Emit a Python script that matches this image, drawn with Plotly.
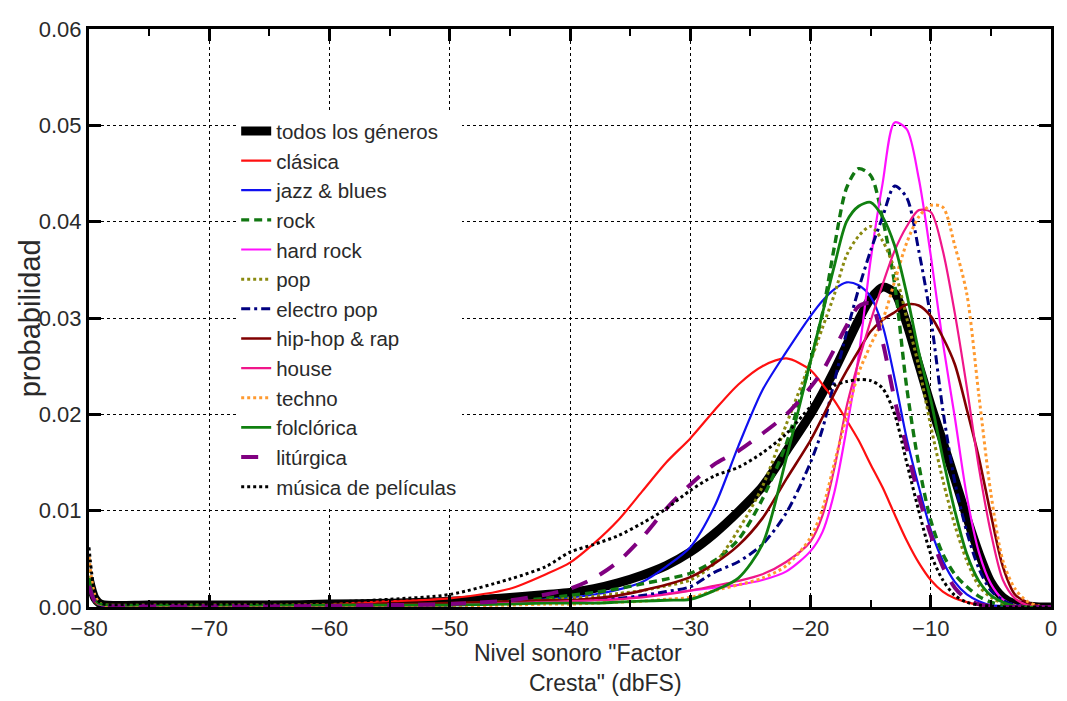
import plotly.graph_objects as go

# Crest-factor level axis (dBFS)
nivel = [-80, -79.5, -79, -75, -70, -65, -60, -55, -50, -45, -42, -40, -38, -36, -34, -32,
         -30, -28, -26, -24, -22, -20, -19, -18, -17, -16, -15, -14, -13, -12, -11, -10,
         -9, -8, -7, -6, -5, -4, -3, -2, -1, 0]

todos = [0.0030, 0.0009, 0.0003, 0.0002, 0.0002, 0.0002, 0.0003, 0.0004, 0.0006, 0.0010, 0.0013, 0.0015,
         0.0019, 0.0025, 0.0033, 0.0043, 0.0057, 0.0076, 0.0099, 0.0125, 0.0162, 0.0200, 0.0222, 0.0246,
         0.0272, 0.0298, 0.0320, 0.0332, 0.0326, 0.0294, 0.0252, 0.0210, 0.0172, 0.0133, 0.0093, 0.0056,
         0.0026, 0.0010, 0.0003, 0.0001, 0.0, 0.0]
clasica = [0.0020, 0.0006, 0.0002, 0.0001, 0.0001, 0.0002, 0.0003, 0.0006, 0.0009, 0.0019, 0.0034, 0.0046,
           0.0066, 0.0090, 0.0120, 0.0150, 0.0175, 0.0204, 0.0231, 0.0250, 0.0258, 0.0246, 0.0231, 0.0214,
           0.0194, 0.0173, 0.0148, 0.0124, 0.0096, 0.0069, 0.0046, 0.0028, 0.0016, 0.0009, 0.0005, 0.0002,
           0.0001, 0.0, 0.0, 0.0, 0.0, 0.0]
jazz = [0.0025, 0.0006, 0.0002, 0.0001, 0.0001, 0.0001, 0.0001, 0.0002, 0.0003, 0.0005, 0.0008, 0.0010,
        0.0013, 0.0018, 0.0026, 0.0042, 0.0062, 0.0104, 0.0167, 0.0225, 0.0265, 0.0302, 0.0318, 0.0330,
        0.0337, 0.0334, 0.0322, 0.0292, 0.0237, 0.0175, 0.0125, 0.0080, 0.0048, 0.0026, 0.0013, 0.0006,
        0.0002, 0.0001, 0.0, 0.0, 0.0, 0.0]
rock = [0.0020, 0.0005, 0.0002, 0.0001, 0.0001, 0.0001, 0.0001, 0.0002, 0.0003, 0.0006, 0.0009, 0.0012,
        0.0015, 0.0019, 0.0024, 0.0029, 0.0035, 0.0048, 0.0070, 0.0112, 0.0170, 0.0255, 0.0305, 0.0375,
        0.0435, 0.0455, 0.0448, 0.0403, 0.0335, 0.0228, 0.0148, 0.0090, 0.0055, 0.0034, 0.0021, 0.0011,
        0.0005, 0.0002, 0.0001, 0.0, 0.0, 0.0]
hard_rock = [0.0025, 0.0006, 0.0002, 0.0001, 0.0001, 0.0001, 0.0001, 0.0001, 0.0002, 0.0004, 0.0005, 0.0006,
             0.0007, 0.0009, 0.0011, 0.0014, 0.0017, 0.0020, 0.0023, 0.0028, 0.0037, 0.0058, 0.0078, 0.0120,
             0.0185, 0.0260, 0.0360, 0.0440, 0.0503, 0.0496, 0.0445, 0.0365, 0.0275, 0.0197, 0.0115, 0.0057,
             0.0024, 0.0008, 0.0002, 0.0001, 0.0, 0.0]
pop = [0.0045, 0.0010, 0.0003, 0.0002, 0.0002, 0.0002, 0.0002, 0.0002, 0.0003, 0.0005, 0.0007, 0.0009,
       0.0011, 0.0014, 0.0017, 0.0022, 0.0028, 0.0045, 0.0080, 0.0125, 0.0190, 0.0255, 0.0290, 0.0325,
       0.0365, 0.0385, 0.0395, 0.0380, 0.0350, 0.0300, 0.0250, 0.0188, 0.0132, 0.0085, 0.0048, 0.0022,
       0.0010, 0.0004, 0.0001, 0.0, 0.0, 0.0]
electro_pop = [0.0020, 0.0005, 0.0002, 0.0001, 0.0001, 0.0001, 0.0001, 0.0001, 0.0002, 0.0004, 0.0006, 0.0007,
               0.0008, 0.0009, 0.0012, 0.0016, 0.0021, 0.0036, 0.0047, 0.0065, 0.0098, 0.0150, 0.0185, 0.0235,
               0.0285, 0.0330, 0.0370, 0.0405, 0.0437, 0.0425, 0.0370, 0.0300, 0.0205, 0.0130, 0.0078, 0.0040,
               0.0017, 0.0007, 0.0002, 0.0001, 0.0, 0.0]
hip_hop = [0.0020, 0.0005, 0.0003, 0.0002, 0.0002, 0.0002, 0.0002, 0.0003, 0.0004, 0.0006, 0.0007, 0.0007,
           0.0009, 0.0012, 0.0017, 0.0023, 0.0031, 0.0045, 0.0064, 0.0092, 0.0133, 0.0173, 0.0197, 0.0222,
           0.0245, 0.0266, 0.0286, 0.0298, 0.0306, 0.0314, 0.0313, 0.0302, 0.0280, 0.0252, 0.0205, 0.0155,
           0.0096, 0.0042, 0.0013, 0.0005, 0.0001, 0.0]
house = [0.0025, 0.0006, 0.0002, 0.0001, 0.0001, 0.0001, 0.0001, 0.0001, 0.0002, 0.0004, 0.0005, 0.0006,
         0.0007, 0.0008, 0.0010, 0.0013, 0.0017, 0.0022, 0.0027, 0.0034, 0.0047, 0.0068, 0.0095, 0.0145,
         0.0208, 0.0255, 0.0297, 0.0335, 0.0370, 0.0395, 0.0412, 0.0410, 0.0370, 0.0305, 0.0228, 0.0145,
         0.0077, 0.0028, 0.0009, 0.0002, 0.0, 0.0]
techno = [0.0052, 0.0012, 0.0003, 0.0001, 0.0001, 0.0001, 0.0001, 0.0001, 0.0001, 0.0002, 0.0003, 0.0003,
          0.0004, 0.0005, 0.0006, 0.0008, 0.0010, 0.0017, 0.0023, 0.0030, 0.0043, 0.0072, 0.0102, 0.0150,
          0.0198, 0.0243, 0.0272, 0.0298, 0.0338, 0.0378, 0.0405, 0.0417, 0.0415, 0.0375, 0.0325, 0.0220,
          0.0118, 0.0048, 0.0019, 0.0006, 0.0001, 0.0]
folclorica = [0.0030, 0.0007, 0.0003, 0.0002, 0.0002, 0.0002, 0.0002, 0.0002, 0.0002, 0.0003, 0.0004, 0.0004,
              0.0004, 0.0005, 0.0006, 0.0007, 0.0008, 0.0017, 0.0030, 0.0065, 0.0155, 0.0255, 0.0305, 0.0355,
              0.0400, 0.0416, 0.0420, 0.0405, 0.0375, 0.0325, 0.0265, 0.0215, 0.0155, 0.0100, 0.0055, 0.0027,
              0.0012, 0.0005, 0.0001, 0.0, 0.0, 0.0]
liturgica = [0.0022, 0.0006, 0.0002, 0.0001, 0.0001, 0.0001, 0.0001, 0.0002, 0.0003, 0.0007, 0.0013, 0.0019,
             0.0030, 0.0047, 0.0072, 0.0102, 0.0127, 0.0148, 0.0162, 0.0180, 0.0200, 0.0228, 0.0245, 0.0268,
             0.0292, 0.0312, 0.0315, 0.0275, 0.0215, 0.0165, 0.0115, 0.0075, 0.0042, 0.0020, 0.0008, 0.0003,
             0.0001, 0.0, 0.0, 0.0, 0.0, 0.0]
peliculas = [0.0062, 0.0015, 0.0004, 0.0004, 0.0003, 0.0004, 0.0005, 0.0008, 0.0013, 0.0029, 0.0042, 0.0057,
             0.0065, 0.0074, 0.0087, 0.0102, 0.0121, 0.0136, 0.0145, 0.0160, 0.0180, 0.0208, 0.0220, 0.0230,
             0.0234, 0.0236, 0.0235, 0.0227, 0.0200, 0.0150, 0.0100, 0.0055, 0.0028, 0.0012, 0.0005, 0.0002,
             0.0001, 0.0, 0.0, 0.0, 0.0, 0.0]

generos = ["todos los géneros", "clásica", "jazz &amp; blues", "rock", "hard rock", "pop",
           "electro pop", "hip-hop &amp; rap", "house", "techno", "folclórica", "litúrgica",
           "música de películas"]
series = [todos, clasica, jazz, rock, hard_rock, pop, electro_pop, hip_hop, house, techno,
          folclorica, liturgica, peliculas]
estilos = [
    dict(color="#000000", width=9, dash="solid"),
    dict(color="#ff1010", width=2.2, dash="solid"),
    dict(color="#1010f0", width=2.2, dash="solid"),
    dict(color="#117711", width=3.4, dash="8px,5px"),
    dict(color="#ff10ff", width=2.2, dash="solid"),
    dict(color="#8a8a10", width=3, dash="dot"),
    dict(color="#000080", width=3, dash="9px,4px,3px,4px"),
    dict(color="#800000", width=2.6, dash="solid"),
    dict(color="#f0168a", width=2.2, dash="solid"),
    dict(color="#ff9a30", width=3, dash="dot"),
    dict(color="#108010", width=2.8, dash="solid"),
    dict(color="#800080", width=4, dash="17px,14px"),
    dict(color="#000000", width=3, dash="dot"),
]

FONT = "Liberation Sans, Arial, sans-serif"
TXT = "#2a2a2a"

fig = go.Figure()
for i, (nombre, ys, est) in enumerate(zip(generos, series, estilos)):
    fig.add_trace(go.Scatter(
        x=nivel, y=ys, mode="lines", name=nombre, legendgroup=f"g{i}",
        line=dict(color=est["color"], width=est["width"], dash=est["dash"],
                  shape="spline", smoothing=0.8),
    ))

axis_common = dict(
    showline=True, linewidth=3, linecolor="black", mirror="allticks",
    ticks="inside", ticklen=12, tickwidth=3, tickcolor="black",
    showgrid=True, gridcolor="black", gridwidth=1, griddash="dot",
    zeroline=False, tickfont=dict(family=FONT, size=22, color=TXT),
)

fig.update_xaxes(range=[-80, 0], tick0=-80, dtick=10,
                 minor=dict(dtick=5, ticks="inside", ticklen=7, tickwidth=2, tickcolor="black", showgrid=False),
                 **axis_common)
fig.update_yaxes(range=[0, 0.06], tick0=0, dtick=0.01, tickformat=".2f", **axis_common)

fig.update_layout(
    width=1067, height=701,
    margin=dict(l=89, r=10, t=29, b=94),
    paper_bgcolor="white", plot_bgcolor="white",
    font=dict(family=FONT, color=TXT),
    showlegend=True,
    legend=dict(
        x=0.153, y=0.858, xanchor="left", yanchor="top",
        bgcolor="white", borderwidth=0,
        font=dict(family=FONT, size=20.5, color=TXT),
        traceorder="grouped", tracegroupgap=0, itemwidth=30,
    ),
    annotations=[
        dict(text="probabilidad", textangle=-90, xref="paper", yref="paper",
             x=(30 - 89) / 968, y=0.5, xanchor="center", yanchor="middle", showarrow=False,
             font=dict(family=FONT, size=29, color=TXT)),
        dict(text="Nivel sonoro \"Factor<br>Cresta\" (dbFS)", xref="paper", yref="paper",
             x=(688 - 89) / 968, y=(607 - 668) / 578, xanchor="right", yanchor="middle",
             align="right", showarrow=False, font=dict(family=FONT, size=23, color=TXT)),
    ],
)

fig.write_html("out.html")
